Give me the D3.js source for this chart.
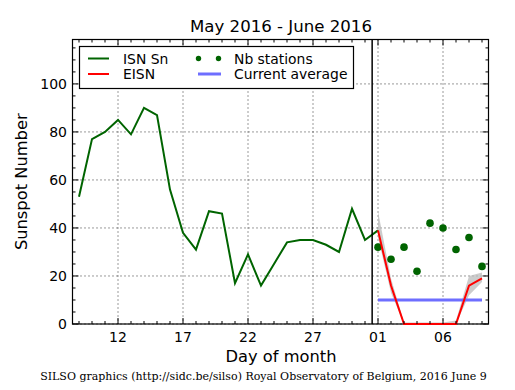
<!DOCTYPE html>
<html><head><meta charset="utf-8">
<script src="https://cdn.jsdelivr.net/npm/d3@7/dist/d3.min.js"></script>
<style>body{margin:0;background:#fff;} svg{display:block;}</style>
</head><body>
<svg id="c" width="515" height="390"></svg>
<script>
// Day numbers counted from 1 May 2016 (32 = 1 June)
const isnDays = [9,10,11,12,13,14,15,16,17,18,19,20,21,22,23,24,25,26,27,28,29,30,31,32];
const isnValues = [53,77,80,85,79,90,87,56,38,31,47,46,17,29,16,25,34,35,35,33,30,48,35,39];
const eisnDays = [32,33,34,35,36,37,38,39,40];
const eisnValues = [39,16,0,0,0,0,0,16,19];
const eisnLow = [36,13,0,0,0,0,0,12,17.5];
const eisnHigh = [47,19,0.6,0.6,0.6,0.6,1.5,20,21.5];
const stationValues = [32,27,32,22,42,40,31,36,24];
const currentAverage = 10;
const xTickDays = [12,17,22,27,32,37];
const xTickLabels = ["12","17","22","27","01","06"];
const yTicks = [0,20,40,60,80,100];

const svg = d3.select("#c");
const L = 72.5, R = 488.5, T = 39.5, B = 324;
const x = d3.scaleLinear().domain([8.5, 40.5]).range([L, R]);
const y = d3.scaleLinear().domain([0, 118.5]).range([B, T]);
const font = "DejaVu Sans, sans-serif";

// grid
const g = svg.append("g");
g.selectAll(".gx").data(xTickDays).enter().append("line")
  .attr("x1", d => x(d)).attr("x2", d => x(d)).attr("y1", T).attr("y2", B)
  .attr("stroke", "#000").attr("stroke-width", 0.8).attr("stroke-dasharray", "1,3");
g.selectAll(".gy").data(yTicks).enter().append("line")
  .attr("x1", L).attr("x2", R).attr("y1", d => y(d)).attr("y2", d => y(d))
  .attr("stroke", "#000").attr("stroke-width", 0.8).attr("stroke-dasharray", "1,3");

const plot = svg.append("g");

// band
plot.append("path")
  .datum(eisnDays.map((d, i) => [d, eisnLow[i], eisnHigh[i]]))
  .attr("d", d3.area().x(d => x(d[0])).y0(d => y(d[1])).y1(d => y(d[2])))
  .attr("fill", "#bbbbbb").attr("opacity", 0.75);

// ISN line
plot.append("path")
  .datum(isnDays.map((d, i) => [d, isnValues[i]]))
  .attr("d", d3.line().x(d => x(d[0])).y(d => y(d[1])))
  .attr("fill", "none").attr("stroke", "#006400").attr("stroke-width", 2);

// current average
plot.append("line")
  .attr("x1", x(eisnDays[0])).attr("x2", x(eisnDays[eisnDays.length - 1]))
  .attr("y1", y(currentAverage)).attr("y2", y(currentAverage))
  .attr("stroke", "#6e6eff").attr("stroke-width", 3);

// stations
plot.selectAll(".st").data(stationValues).enter().append("circle")
  .attr("cx", (d, i) => x(eisnDays[i])).attr("cy", d => y(d)).attr("r", 3.8)
  .attr("fill", "#006400");

// vertical separator
svg.append("line").attr("x1", x(31.55)).attr("x2", x(31.55)).attr("y1", T).attr("y2", B)
  .attr("stroke", "#000").attr("stroke-width", 1.5);

// frame
svg.append("rect").attr("x", L).attr("y", T).attr("width", R - L).attr("height", B - T)
  .attr("fill", "none").attr("stroke", "#000").attr("stroke-width", 1.2);

// EISN (drawn above the frame so the zero segment stays visible)
svg.append("path")
  .datum(eisnDays.map((d, i) => [d, eisnValues[i]]))
  .attr("d", d3.line().x(d => x(d[0])).y(d => y(d[1])))
  .attr("fill", "none").attr("stroke", "#ff0000").attr("stroke-width", 2);

// ticks
const xMinor = d3.range(9, 41);
const yMinor = d3.range(0, 119, 5);
function tick(x1, y1, x2, y2) {
  svg.append("line").attr("x1", x1).attr("y1", y1).attr("x2", x2).attr("y2", y2)
    .attr("stroke", "#000").attr("stroke-width", 1);
}
xMinor.forEach(d => {
  const major = xTickDays.includes(d); const len = major ? 6 : 3;
  tick(x(d), B, x(d), B - len); tick(x(d), T, x(d), T + len);
});
yMinor.forEach(d => {
  const major = yTicks.includes(d); const len = major ? 6 : 3;
  tick(L, y(d), L + len, y(d)); tick(R, y(d), R - len, y(d));
});

// tick labels
svg.selectAll(".xl").data(xTickDays).enter().append("text")
  .attr("x", d => x(d)).attr("y", 341.5).attr("text-anchor", "middle")
  .attr("font-family", font).attr("font-size", 14).text((d, i) => xTickLabels[i]);
svg.selectAll(".yl").data(yTicks).enter().append("text")
  .attr("x", 67).attr("y", d => y(d) + 5).attr("text-anchor", "end")
  .attr("font-family", font).attr("font-size", 14).text(d => d);

// titles
svg.append("text").attr("x", 281).attr("y", 32).attr("text-anchor", "middle")
  .attr("font-family", font).attr("font-size", 16.6).text("May 2016 - June 2016");
svg.append("text").attr("x", 281).attr("y", 362).attr("text-anchor", "middle")
  .attr("font-family", font).attr("font-size", 16.3).text("Day of month");
svg.append("text").attr("transform", "translate(27," + ((T + B) / 2) + ") rotate(-90)")
  .attr("text-anchor", "middle").attr("font-family", font).attr("font-size", 16.3)
  .text("Sunspot Number");
svg.append("text").attr("x", 263.5).attr("y", 380).attr("text-anchor", "middle")
  .attr("font-family", "DejaVu Serif, serif").attr("font-size", 11)
  .text("SILSO graphics (http://sidc.be/silso) Royal Observatory of Belgium, 2016 June 9");

// legend
const lg = svg.append("g");
lg.append("rect").attr("x", 79.5).attr("y", 46.5).attr("width", 274).attr("height", 42)
  .attr("fill", "#fff").attr("stroke", "#000").attr("stroke-width", 1.2);
lg.append("line").attr("x1", 88).attr("x2", 109).attr("y1", 58.5).attr("y2", 58.5)
  .attr("stroke", "#006400").attr("stroke-width", 2);
lg.append("line").attr("x1", 88).attr("x2", 109).attr("y1", 74).attr("y2", 74)
  .attr("stroke", "#ff0000").attr("stroke-width", 2);
[198.5, 218.5].forEach(cx => lg.append("circle").attr("cx", cx).attr("cy", 58.5).attr("r", 2.7).attr("fill", "#006400"));
lg.append("line").attr("x1", 198).attr("x2", 221).attr("y1", 74).attr("y2", 74)
  .attr("stroke", "#6e6eff").attr("stroke-width", 3);
const lt = [["ISN Sn", 123, 63.5], ["EISN", 123, 79], ["Nb stations", 234, 63.5], ["Current average", 234, 79]];
lt.forEach(t => lg.append("text").attr("x", t[1]).attr("y", t[2])
  .attr("font-family", font).attr("font-size", 13.9).text(t[0]));
</script>
</body></html>
